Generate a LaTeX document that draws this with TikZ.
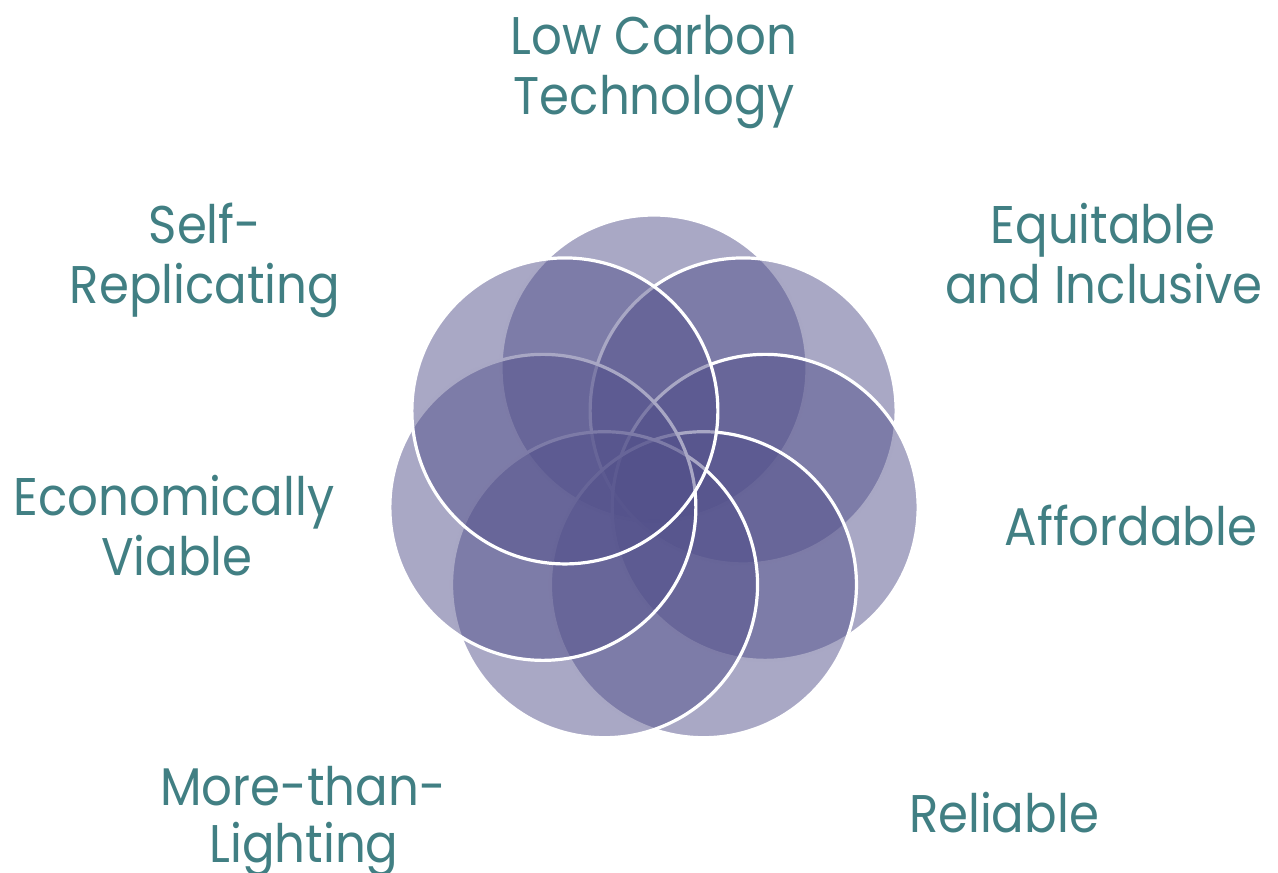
\documentclass[tikz,border=0pt]{standalone}
\usepackage{fontspec}
\setmainfont{Poppins}[FakeStretch=0.91]
\usetikzlibrary{calc}
\definecolor{petalfill}{RGB}{83,81,139}
\definecolor{labelteal}{RGB}{65,127,131}
\tikzset{
  petal/.style={fill=petalfill, fill opacity=0.5, draw=white, draw opacity=1, line width=3.2pt},
  lbl/.style={anchor=base, text=labelteal, inner sep=0pt, font=\fontsize{53}{60}\selectfont}
}
\begin{document}
\begin{tikzpicture}[x=1pt,y=-1pt]
\useasboundingbox (0,0) rectangle (1278,873);
\coordinate (c) at (654,482);
\foreach \k in {0,...,6} {
  \path[petal] ($(c)+(-90+\k*360/7:114)$) circle (153);
}
\node[lbl] (lc1) at (654,54) {Low Carbon};
\node[lbl] (lc2) at (654,114) {Technology};
\node[lbl] (sr1) at (205,243) {Self-};
\node[lbl] (sr2) at (205,303) {Replicating};
\node[lbl] (ei1) at (1103,243) {Equitable};
\node[lbl] (ei2) at (1104,303) {and Inclusive};
\node[lbl] (ev1) at (174,515) {Economically};
\node[lbl] (ev2) at (177,575) {Viable};
\node[lbl] (af) at (1131,545) {Affordable};
\node[lbl] (ml1) at (303,805) {More-than-};
\node[lbl] (ml2) at (304,862) {Lighting};
\node[lbl] (rl) at (1004,832) {Reliable};
\end{tikzpicture}
\end{document}
